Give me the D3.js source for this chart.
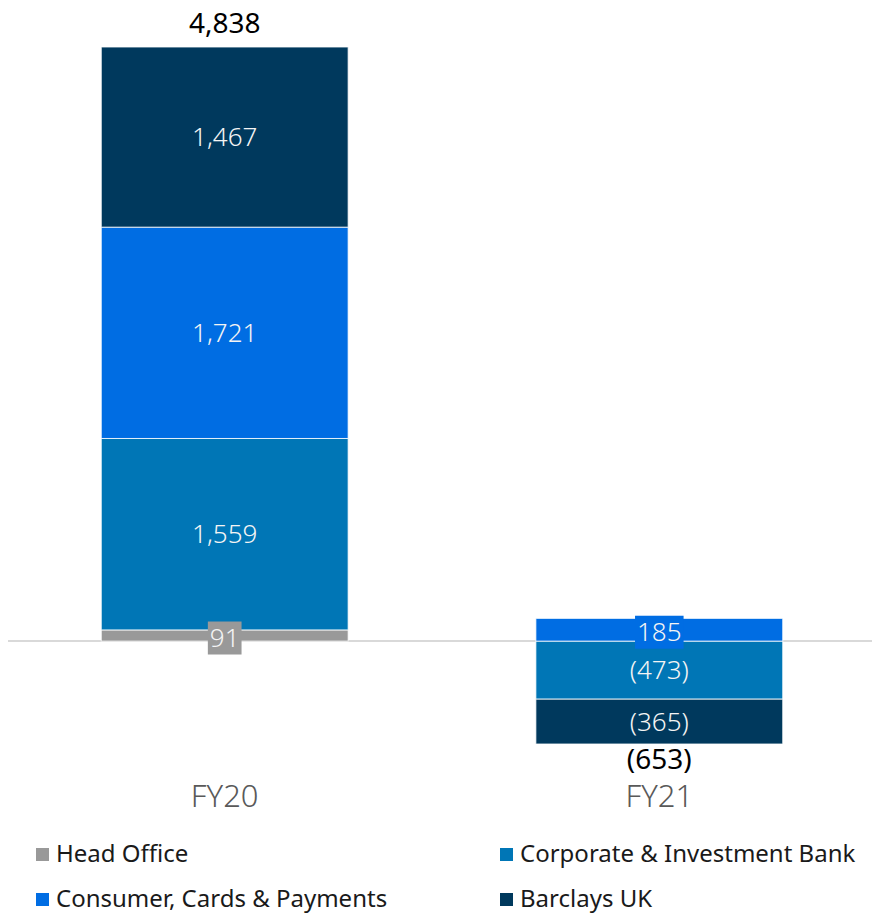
<!DOCTYPE html>
<html>
<head>
<meta charset="utf-8">
<script src="https://cdn.jsdelivr.net/npm/d3@7"></script>
<style>
  body { margin: 0; background: #fff; }
  svg text { font-family: "Noto Sans", sans-serif; }
</style>
</head>
<body>
<div id="chart"></div>
<script>
var width = 872, height = 913;

// data
var years = ["FY20", "FY21"];
var segments = ["Head Office", "Corporate & Investment Bank", "Consumer, Cards & Payments", "Barclays UK"];
var headOffice = [91, 0];
var corporate = [1559, -473];
var consumer = [1721, 185];
var barclaysUK = [1467, -365];
var totals = [4838, -653];
var colors = ["#999999", "#0076B6", "#006DE3", "#00395D"];

var rows = years.map(function(y, i) {
  return {
    year: y,
    "Head Office": headOffice[i],
    "Corporate & Investment Bank": corporate[i],
    "Consumer, Cards & Payments": consumer[i],
    "Barclays UK": barclaysUK[i],
    total: totals[i]
  };
});

var series = d3.stack()
    .keys(segments)
    .offset(d3.stackOffsetDiverging)(rows);

var svg = d3.select("#chart").append("svg")
    .attr("width", width)
    .attr("height", height);

var x = d3.scaleBand()
    .domain(years)
    .range([10, 874])
    .paddingInner(0.432)
    .paddingOuter(0.21);

var yMin = d3.min(series, function(s) { return d3.min(s, function(d) { return d[0]; }); });
var yMax = d3.max(series, function(s) { return d3.max(s, function(d) { return d[1]; }); });

var y = d3.scaleLinear()
    .domain([yMin, yMax])
    .range([744, 47]);

var color = d3.scaleOrdinal().domain(segments).range(colors);

// baseline
svg.append("line")
    .attr("x1", 8).attr("x2", 872)
    .attr("y1", y(0)).attr("y2", y(0))
    .attr("stroke", "#d9d9d9")
    .attr("stroke-width", 2);

var groups = svg.selectAll("g.series")
  .data(series)
  .enter().append("g")
    .attr("class", "series")
    .attr("fill", function(d) { return color(d.key); });

groups.selectAll("rect")
  .data(function(d) { return d.filter(function(p) { return p[1] !== p[0]; }); })
  .enter().append("rect")
    .attr("x", function(d) { return x(d.data.year); })
    .attr("width", x.bandwidth())
    .attr("y", function(d) { return y(Math.max(d[0], d[1])); })
    .attr("height", function(d) { return Math.abs(y(d[0]) - y(d[1])); })
    .attr("stroke", "rgba(255,255,255,0.8)")
    .attr("stroke-width", 1);

function fmt(v) {
  var s = d3.format(",")(Math.abs(v));
  return v < 0 ? "(" + s + ")" : s;
}

// segment labels
series.forEach(function(s) {
  s.forEach(function(d) {
    var v = d.data[s.key];
    if (v === 0) return;
    var cx = x(d.data.year) + x.bandwidth() / 2;
    var cy = (y(d[0]) + y(d[1])) / 2;
    var small = Math.abs(y(d[0]) - y(d[1])) < 30;
    var t = svg.append("text")
        .attr("x", cx)
        .attr("y", cy + (small ? 2 : 0))
        .attr("dy", "0.35em")
        .attr("text-anchor", "middle")
        .attr("font-size", 26)
        .attr("font-weight", 300)
        .attr("fill", "#f4f4f4")
        .text(fmt(v));
    if (small) {
      var bb = t.node().getBBox();
      svg.insert("rect", function() { return t.node(); })
          .attr("x", bb.x - 2)
          .attr("y", cy - 14)
          .attr("width", bb.width + 4)
          .attr("height", 33)
          .attr("fill", color(s.key));
    }
  });
});

// totals
rows.forEach(function(r, i) {
  var s0 = d3.max(series, function(s) { return s[i][1]; });
  var s1 = d3.min(series, function(s) { return s[i][0]; });
  svg.append("text")
      .attr("x", x(r.year) + x.bandwidth() / 2)
      .attr("y", r.total >= 0 ? y(s0) - 24 : y(s1) + 15)
      .attr("dy", "0.35em")
      .attr("text-anchor", "middle")
      .attr("font-size", 28)
      .attr("fill", "#000")
      .text(fmt(r.total));
});

// category axis
svg.append("g")
    .attr("transform", "translate(0,796)")
    .call(d3.axisBottom(x).tickSize(0).tickPadding(0))
    .call(function(g) { g.select(".domain").remove(); })
    .selectAll("text")
    .attr("dy", "0.35em")
    .attr("font-size", 31)
    .attr("font-weight", 300)
    .attr("fill", "#595959")
    .style("font-family", "'Noto Sans', sans-serif");

// legend
var legendPos = [[36, 854], [500, 854], [36, 899], [500, 899]];
var legendOrder = ["Head Office", "Corporate & Investment Bank", "Consumer, Cards & Payments", "Barclays UK"];
var legend = svg.selectAll("g.legend")
  .data(legendOrder)
  .enter().append("g")
    .attr("class", "legend")
    .attr("transform", function(d, i) { return "translate(" + legendPos[i][0] + "," + legendPos[i][1] + ")"; });

legend.append("rect")
    .attr("x", 0).attr("y", -6)
    .attr("width", 13).attr("height", 13)
    .attr("fill", function(d) { return color(d); });

legend.append("text")
    .attr("x", 20)
    .attr("dy", "0.35em")
    .attr("font-size", 24)
    .attr("fill", "#1a1a1a")
    .text(function(d) { return d; });
</script>
</body>
</html>
